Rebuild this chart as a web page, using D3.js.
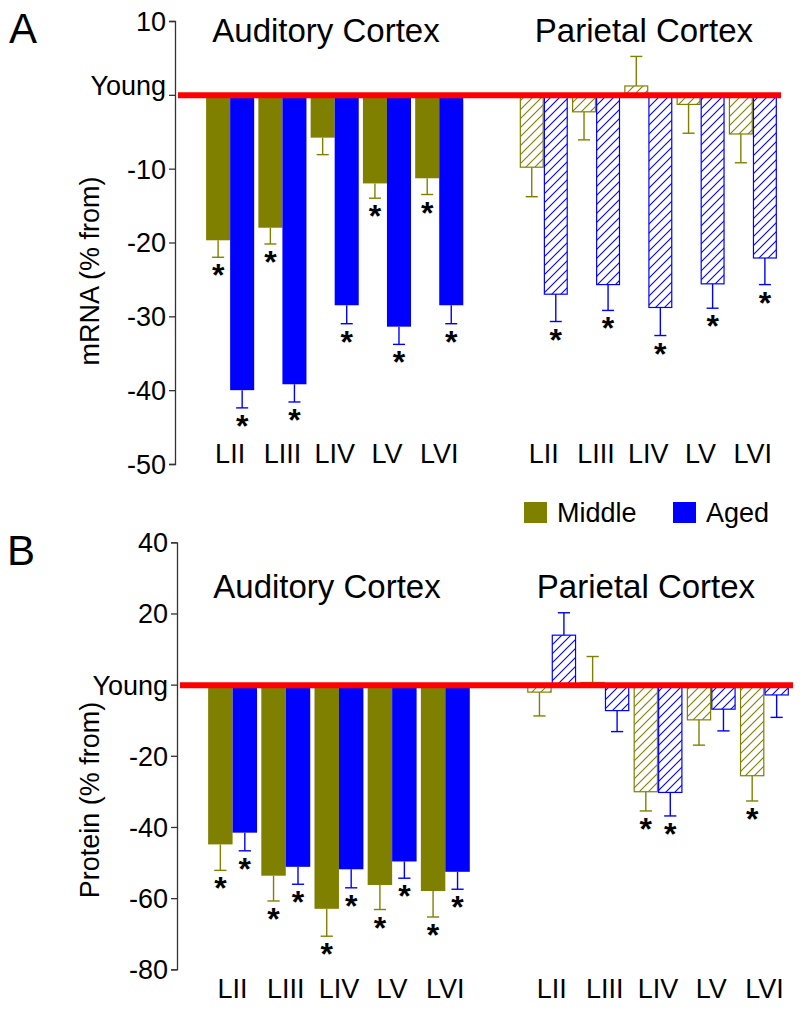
<!DOCTYPE html>
<html>
<head>
<meta charset="utf-8">
<script src="https://cdn.jsdelivr.net/npm/d3@7"></script>
<style>
  html, body { margin: 0; padding: 0; background: #fff; }
  svg { display: block; font-family: "Liberation Sans", Arial, Helvetica, sans-serif; }
</style>
</head>
<body>
<svg id="chart" width="800" height="1032"></svg>
<script>
// ---------- DATA ----------
const layers = ["LII", "LIII", "LIV", "LV", "LVI"];
const groups = ["Middle", "Aged"];

// Panel A: mRNA (% from Young)
const mrnaAudMiddle = [-19.7, -18.0, -5.8, -12.0, -11.3];
const mrnaAudMiddleErr = [2.3, 2.2, 2.3, 2.0, 2.2];
const mrnaAudAged = [-40.0, -39.2, -28.5, -31.4, -28.5];
const mrnaAudAgedErr = [2.4, 2.4, 2.5, 2.4, 2.5];
const mrnaParMiddle = [-9.8, -2.3, 1.2, -1.3, -5.3];
const mrnaParMiddleErr = [4.0, 3.8, 4.0, 3.9, 3.9];
const mrnaParAged = [-27.0, -25.7, -28.8, -25.6, -22.1];
const mrnaParAgedErr = [3.7, 3.5, 3.8, 3.3, 3.6];
const mrnaAudMiddleSig = [1, 1, 0, 1, 1];
const mrnaAudAgedSig = [1, 1, 1, 1, 1];
const mrnaParMiddleSig = [0, 0, 0, 0, 0];
const mrnaParAgedSig = [1, 1, 1, 1, 1];
const mrnaTicks = [10, 0, -10, -20, -30, -40, -50];

// Panel B: Protein (% from Young)
const protAudMiddle = [-44.9, -53.7, -63.0, -56.3, -58.0];
const protAudMiddleErr = [7.3, 7.1, 7.7, 6.9, 7.3];
const protAudAged = [-41.6, -51.2, -51.9, -49.7, -52.6];
const protAudAgedErr = [5.1, 4.9, 5.2, 4.7, 4.9];
const protParMiddle = [-2.1, 0.6, -30.1, -9.9, -25.6];
const protParMiddleErr = [6.7, 7.3, 5.4, 7.1, 7.1];
const protParAged = [13.9, -7.3, -30.3, -6.9, -2.9];
const protParAgedErr = [6.3, 5.9, 6.6, 6.1, 6.3];
const protAudMiddleSig = [1, 1, 1, 1, 1];
const protAudAgedSig = [1, 1, 1, 1, 1];
const protParMiddleSig = [0, 0, 1, 0, 1];
const protParAgedSig = [0, 0, 1, 0, 0];
const protTicks = [40, 20, 0, -20, -40, -60, -80];

// ---------- STYLE ----------
const OLIVE = "#808000";
const BLUE = "#0000ff";
const RED = "#ff0000";
const colorOf = { Middle: OLIVE, Aged: BLUE };

const svg = d3.select("#chart");
const defs = svg.append("defs");
function hatch(id, color) {
  const p = defs.append("pattern")
    .attr("id", id).attr("patternUnits", "userSpaceOnUse")
    .attr("width", 9).attr("height", 9);
  p.append("rect").attr("width", 9).attr("height", 9).attr("fill", "#fff");
  p.append("path").attr("d", "M-2,2 L2,-2 M0,9 L9,0 M7,11 L11,7")
    .attr("stroke", color).attr("stroke-width", 1.1).attr("fill", "none");
}
hatch("hatch-Middle", OLIVE);
hatch("hatch-Aged", BLUE);

function buildRows(region, middle, middleErr, middleSig, aged, agedErr, agedSig) {
  const rows = [];
  layers.forEach((l, i) => {
    rows.push({ key: region + "-" + l, group: "Middle", value: middle[i], err: middleErr[i], sig: middleSig[i], hatched: region === "Par" });
    rows.push({ key: region + "-" + l, group: "Aged", value: aged[i], err: agedErr[i], sig: agedSig[i], hatched: region === "Par" });
  });
  return rows;
}

function drawPanel(cfg) {
  const g = svg.append("g");
  const slots = layers.map(l => "Aud-" + l).concat(["gap"], layers.map(l => "Par-" + l));
  const x = d3.scaleBand().domain(slots).range(cfg.xRange).paddingInner(0.08).paddingOuter(0.04);
  const xs = d3.scaleBand().domain(groups).range([0, x.bandwidth()]);
  const y = d3.scaleLinear().domain(cfg.yDomain).range(cfg.yRange);

  // y axis
  const axis = d3.axisLeft(y).tickValues(cfg.ticks).tickSize(6).tickPadding(3)
    .tickFormat(d => d === 0 ? "Young" : String(d));
  const ag = g.append("g").attr("transform", `translate(${cfg.axisX},0)`).call(axis);
  ag.select(".domain").attr("stroke", "#333").attr("stroke-width", 1.3);
  ag.selectAll(".tick line").attr("stroke", "#333").attr("stroke-width", 1.3);
  ag.selectAll(".tick text").attr("font-size", 27).attr("fill", "#000")
    .attr("font-family", "'Liberation Sans', Arial, sans-serif")
    .attr("dy", d => d === 0 ? cfg.youngDy : "0.35em");

  // y title
  g.append("text")
    .attr("transform", `translate(${cfg.titleX},${cfg.titleY}) rotate(-90)`)
    .attr("text-anchor", "middle").attr("font-size", 27).text(cfg.yTitle);

  // panel letter
  g.append("text").attr("x", cfg.letterX).attr("y", cfg.letterY)
    .attr("font-size", 42).text(cfg.letter);

  // region titles
  cfg.regionTitles.forEach(t => {
    g.append("text").attr("x", t.x).attr("y", t.y).attr("text-anchor", "middle")
      .attr("font-size", 33).text(t.text);
  });

  const rows = cfg.rows;
  const bx = d => x(d.key) + xs(d.group);
  const bw = xs.bandwidth();

  // bars
  g.selectAll("rect.bar").data(rows).join("rect")
    .attr("class", "bar")
    .attr("x", d => d.hatched ? bx(d) + 0.6 : bx(d))
    .attr("width", d => d.hatched ? bw - 1.2 : bw)
    .attr("y", d => y(Math.max(0, d.value)))
    .attr("height", d => Math.abs(y(d.value) - y(0)))
    .attr("fill", d => d.hatched ? `url(#hatch-${d.group})` : colorOf[d.group])
    .attr("stroke", d => d.hatched ? colorOf[d.group] : "none")
    .attr("stroke-width", 1.2);

  // error bars
  const errEnd = d => d.value >= 0 ? d.value + d.err : d.value - d.err;
  const eb = g.selectAll("g.err").data(rows).join("g").attr("class", "err")
    .attr("stroke", d => colorOf[d.group]).attr("stroke-width", 1.4);
  eb.append("line")
    .attr("x1", d => bx(d) + bw / 2).attr("x2", d => bx(d) + bw / 2)
    .attr("y1", d => y(d.value)).attr("y2", d => y(errEnd(d)));
  eb.append("line")
    .attr("x1", d => bx(d) + bw / 2 - bw / 4).attr("x2", d => bx(d) + bw / 2 + bw / 4)
    .attr("y1", d => y(errEnd(d))).attr("y2", d => y(errEnd(d)));

  // significance stars
  g.selectAll("text.star").data(rows.filter(d => d.sig)).join("text")
    .attr("class", "star")
    .attr("x", d => bx(d) + bw / 2)
    .attr("y", d => y(errEnd(d)) + 29)
    .attr("text-anchor", "middle").attr("font-size", 32).attr("font-weight", "bold")
    .text("*");

  // young (zero) red line
  g.append("line")
    .attr("x1", cfg.axisX + 3).attr("x2", cfg.xRange[1] + cfg.redExtra)
    .attr("y1", y(0) + 0.5).attr("y2", y(0) + 0.5)
    .attr("stroke", RED).attr("stroke-width", 6);

  // category labels
  g.selectAll("text.cat").data(slots.filter(s => s !== "gap")).join("text")
    .attr("class", "cat")
    .attr("x", s => x(s) + x.bandwidth() / 2)
    .attr("y", cfg.catY)
    .attr("text-anchor", "middle").attr("font-size", 27)
    .text(s => s.split("-")[1]);
}

drawPanel({
  letter: "A", letterX: 9, letterY: 43,
  xRange: [204, 779], axisX: 175, redExtra: 2,
  yDomain: [-50, 10], yRange: [464, 21], ticks: mrnaTicks, youngDy: "0em",
  yTitle: "mRNA (% from)", titleX: 99, titleY: 271,
  regionTitles: [{ text: "Auditory Cortex", x: 326, y: 42 }, { text: "Parietal Cortex", x: 644, y: 42 }],
  catY: 463,
  rows: buildRows("Aud", mrnaAudMiddle, mrnaAudMiddleErr, mrnaAudMiddleSig, mrnaAudAged, mrnaAudAgedErr, mrnaAudAgedSig)
    .concat(buildRows("Par", mrnaParMiddle, mrnaParMiddleErr, mrnaParMiddleSig, mrnaParAged, mrnaParAgedErr, mrnaParAgedSig))
});

drawPanel({
  letter: "B", letterX: 7, letterY: 565,
  xRange: [206, 791], axisX: 177, redExtra: 2,
  yDomain: [-80, 40], yRange: [969.3, 542.3], ticks: protTicks, youngDy: "0.35em",
  yTitle: "Protein (% from)", titleX: 99, titleY: 800,
  regionTitles: [{ text: "Auditory Cortex", x: 327, y: 598 }, { text: "Parietal Cortex", x: 646, y: 598 }],
  catY: 998,
  rows: buildRows("Aud", protAudMiddle, protAudMiddleErr, protAudMiddleSig, protAudAged, protAudAgedErr, protAudAgedSig)
    .concat(buildRows("Par", protParMiddle, protParMiddleErr, protParMiddleSig, protParAged, protParAgedErr, protParAgedSig))
});

// legend
const legend = svg.append("g");
const legendItems = [{ name: "Middle", x: 524 }, { name: "Aged", x: 673 }];
legend.selectAll("rect").data(legendItems).join("rect")
  .attr("x", d => d.x).attr("y", 502).attr("width", 23).attr("height", 21)
  .attr("fill", d => colorOf[d.name]);
legend.selectAll("text").data(legendItems).join("text")
  .attr("x", d => d.x + 33).attr("y", 522).attr("font-size", 27)
  .text(d => d.name);
</script>
</body>
</html>
